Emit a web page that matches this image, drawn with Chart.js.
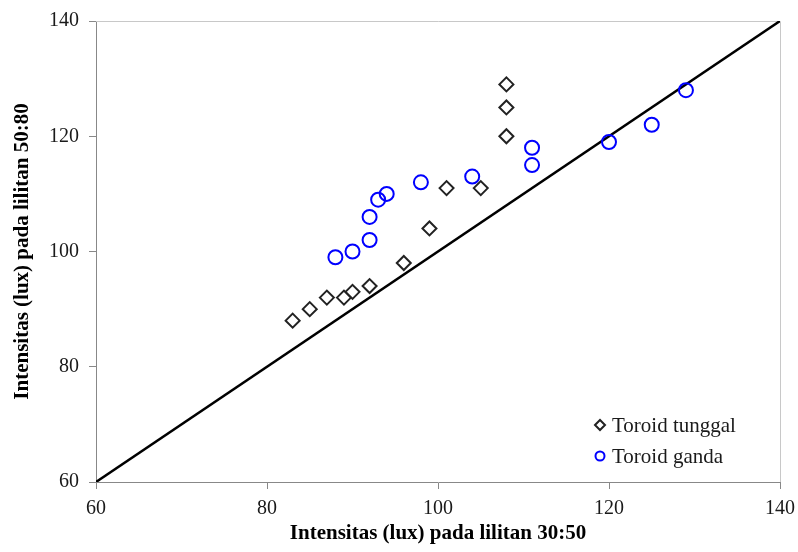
<!DOCTYPE html>
<html>
<head>
<meta charset="utf-8">
<script src="https://cdn.jsdelivr.net/npm/chart.js@4.4.1/dist/chart.umd.min.js"></script>
<style>
  html, body { margin: 0; padding: 0; background: #fff; }
  #wrap { width: 798px; height: 552px; }
</style>
</head>
<body>
<div id="wrap"><canvas id="chart" width="798" height="552"></canvas></div>
<script>
// data
const tunggalX = [83, 85, 87, 89, 90, 92, 96, 99, 101, 105, 108, 108, 108];
const tunggalY = [88, 90, 92, 92, 93, 94, 98, 104, 111, 111, 120, 125, 129];
const gandaX = [88, 90, 92, 92, 93, 94, 98, 104, 111, 111, 120, 125, 129];
const gandaY = [99, 100, 102, 106, 109, 110, 112, 113, 115, 118, 119, 122, 128];
const lineX = [60, 140];
const lineY = [60, 140];
const axisMin = 60;
const axisMax = 140;
const axisStep = 20;
const seriesNames = ['Toroid tunggal', 'Toroid ganda'];
const xTitle = 'Intensitas (lux) pada lilitan 30:50';
const yTitle = 'Intensitas (lux) pada lilitan 50:80';

const serif = "'Liberation Serif', 'Times New Roman', serif";

function toPoints(xs, ys) {
  return xs.map((x, i) => ({ x: x, y: ys[i] }));
}

// top + right frame of the plot area
const framePlugin = {
  id: 'frame',
  beforeDatasetsDraw(chart) {
    const { ctx, chartArea: a } = chart;
    ctx.save();
    ctx.strokeStyle = '#c8c8c8';
    ctx.lineWidth = 1;
    ctx.beginPath();
    ctx.moveTo(a.left, a.top + 0.5);
    ctx.lineTo(a.right + 0.5, a.top + 0.5);
    ctx.lineTo(a.right + 0.5, a.bottom);
    ctx.stroke();
    ctx.restore();
  }
};

// legend inside the plot, lower right
const insideLegend = {
  id: 'insideLegend',
  afterDraw(chart) {
    const ctx = chart.ctx;
    const items = [chart.data.datasets[1], chart.data.datasets[2]];
    ctx.save();
    ctx.font = '21px ' + serif;
    ctx.textBaseline = 'middle';
    ctx.textAlign = 'left';
    items.forEach((ds, i) => {
      const y = 425 + i * 31;
      ctx.strokeStyle = ds.pointBorderColor;
      ctx.lineWidth = 2;
      ctx.fillStyle = 'rgba(0,0,0,0)';
      Chart.helpers.drawPoint(ctx, {
        pointStyle: ds.pointStyle,
        radius: i === 0 ? 5 : 4.5,
        rotation: 0,
        borderWidth: 2
      }, 600, y);
      ctx.fillStyle = '#1a1a1a';
      ctx.fillText(ds.label, 612, y + 1);
    });
    ctx.restore();
  }
};

new Chart(document.getElementById('chart'), {
  type: 'scatter',
  data: {
    datasets: [{
      type: 'line',
      label: 'y = x',
      data: toPoints(lineX, lineY),
      borderColor: '#000',
      borderWidth: 2.5,
      pointRadius: 0,
      fill: false,
      order: 3
    }, {
      label: seriesNames[0],
      data: toPoints(tunggalX, tunggalY),
      pointStyle: 'rectRot',
      pointRadius: 7,
      pointBorderWidth: 2,
      pointBorderColor: '#222',
      pointBackgroundColor: 'rgba(0,0,0,0)',
      order: 1
    }, {
      label: seriesNames[1],
      data: toPoints(gandaX, gandaY),
      pointStyle: 'circle',
      pointRadius: 7,
      pointBorderWidth: 2,
      pointBorderColor: '#0000ff',
      pointBackgroundColor: 'rgba(0,0,0,0)',
      order: 2
    }]
  },
  options: {
    responsive: false,
    animation: false,
    layout: { padding: { left: 0, right: 18, top: 21, bottom: 0 } },
    plugins: {
      legend: { display: false },
      tooltip: { enabled: false }
    },
    scales: {
      x: {
        type: 'linear',
        min: axisMin,
        max: axisMax,
        afterFit(scale) {
          scale.height = 70;
          scale.paddingLeft = 0;
          scale.paddingRight = 0;
        },
        ticks: {
          stepSize: axisStep,
          color: '#1a1a1a',
          padding: 8,
          font: { family: serif, size: 20 }
        },
        grid: { drawOnChartArea: false, drawTicks: true, tickLength: 7, color: '#888' },
        border: { display: true, color: '#888', width: 1 },
        title: {
          display: true,
          text: xTitle,
          color: '#000',
          font: { family: serif, size: 21, weight: 'bold' },
          padding: { top: 0, bottom: 6 }
        }
      },
      y: {
        type: 'linear',
        min: axisMin,
        max: axisMax,
        afterFit(scale) {
          scale.width = 96;
          scale.paddingTop = 0;
          scale.paddingBottom = 0;
        },
        ticks: {
          stepSize: axisStep,
          color: '#1a1a1a',
          padding: 10,
          font: { family: serif, size: 20 }
        },
        grid: { drawOnChartArea: false, drawTicks: true, tickLength: 7, color: '#888' },
        border: { display: true, color: '#888', width: 1 },
        title: {
          display: true,
          text: yTitle,
          color: '#000',
          font: { family: serif, size: 21, weight: 'bold' },
          padding: { top: 10, bottom: 0 }
        }
      }
    }
  },
  plugins: [framePlugin, insideLegend]
});
</script>
</body>
</html>
